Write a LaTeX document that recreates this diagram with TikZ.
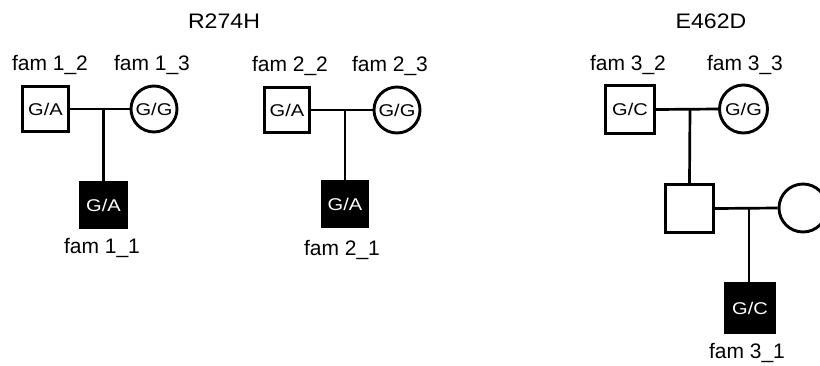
\documentclass[tikz,border=0pt]{standalone}
\usepackage{fontspec}
\setmainfont{Liberation Sans}
\newcommand\genot[1]{\scalebox{1.18}[1]{#1}}
\newcommand\ttl[1]{\scalebox{1.1}[1]{#1}}
\begin{document}
\begin{tikzpicture}[x=1pt,y=-1pt,
  person/.style={draw=black, line width=2.9pt, inner sep=0pt, fill=white,
                 font=\fontsize{17}{17}\selectfont},
  sqsmall/.style={person, rectangle, minimum size=45.5pt},
  cismall/.style={person, circle, minimum size=46pt},
  sqbig/.style={person, rectangle, minimum size=48.5pt},
  cibig/.style={person, circle, minimum size=48pt},
  affected/.style={fill=black, text=white},
  lbl/.style={inner sep=0pt, anchor=base, font=\fontsize{21}{21}\selectfont},
  link/.style={draw=black, line width=2.7pt}
]
\useasboundingbox (0,0) rectangle (820,365);
\clip (0,0) rectangle (820,365);

% titles
\node[lbl] (t1) at (224,28) {\ttl{R274H}};
\node[lbl] (t2) at (711,28) {\ttl{E462D}};

% family 1
\node[sqsmall] (f12) at (45.5,109) {\genot{G/A}};
\node[cismall] (f13) at (154,109) {\genot{G/G}};
\node[sqsmall, affected] (f11) at (103.5,205) {\genot{G/A}};
\coordinate (m1) at (103.5,109);
\draw[link] (f12.east) -- (f13.west);
\draw[link] (m1) -- (f11.north);
\node[lbl] (l12) at (50,70) {fam 1\_2};
\node[lbl] (l13) at (152,70) {fam 1\_3};
\node[lbl] (l11) at (102,253) {fam 1\_1};

% family 2
\node[sqsmall] (f22) at (287,110) {\genot{G/A}};
\node[cismall] (f23) at (397,110) {\genot{G/G}};
\node[sqsmall, affected] (f21) at (345,204) {\genot{G/A}};
\coordinate (m2) at (345,110);
\draw[link] (f22.east) -- (f23.west);
\draw[link] (m2) -- (f21.north);
\node[lbl] (l22) at (290,71) {fam 2\_2};
\node[lbl] (l23) at (390,71) {fam 2\_3};
\node[lbl] (l21) at (342,255) {fam 2\_1};

% family 3
\node[sqbig] (f32) at (630,109.5) {\genot{G/C}};
\node[cibig] (f33) at (743.5,109) {\genot{G/G}};
\node[sqbig] (f3m) at (689.5,208.5) {};
\node[cibig] (f3w) at (803,208) {};
\node[sqbig, affected] (f31) at (750,308) {\genot{G/C}};
\coordinate (m3) at (690,109);
\coordinate (m4) at (749,208);
\draw[link] (f32.east) -- (f33.west);
\draw[link] (m3) -- (f3m.north);
\draw[link] (f3m.east) -- (f3w.west);
\draw[link] (m4) -- (m4 |- f31.north);
\node[lbl] (l32) at (628,70) {fam 3\_2};
\node[lbl] (l33) at (745,70) {fam 3\_3};
\node[lbl] (l31) at (747,358) {fam 3\_1};
\end{tikzpicture}
\end{document}
